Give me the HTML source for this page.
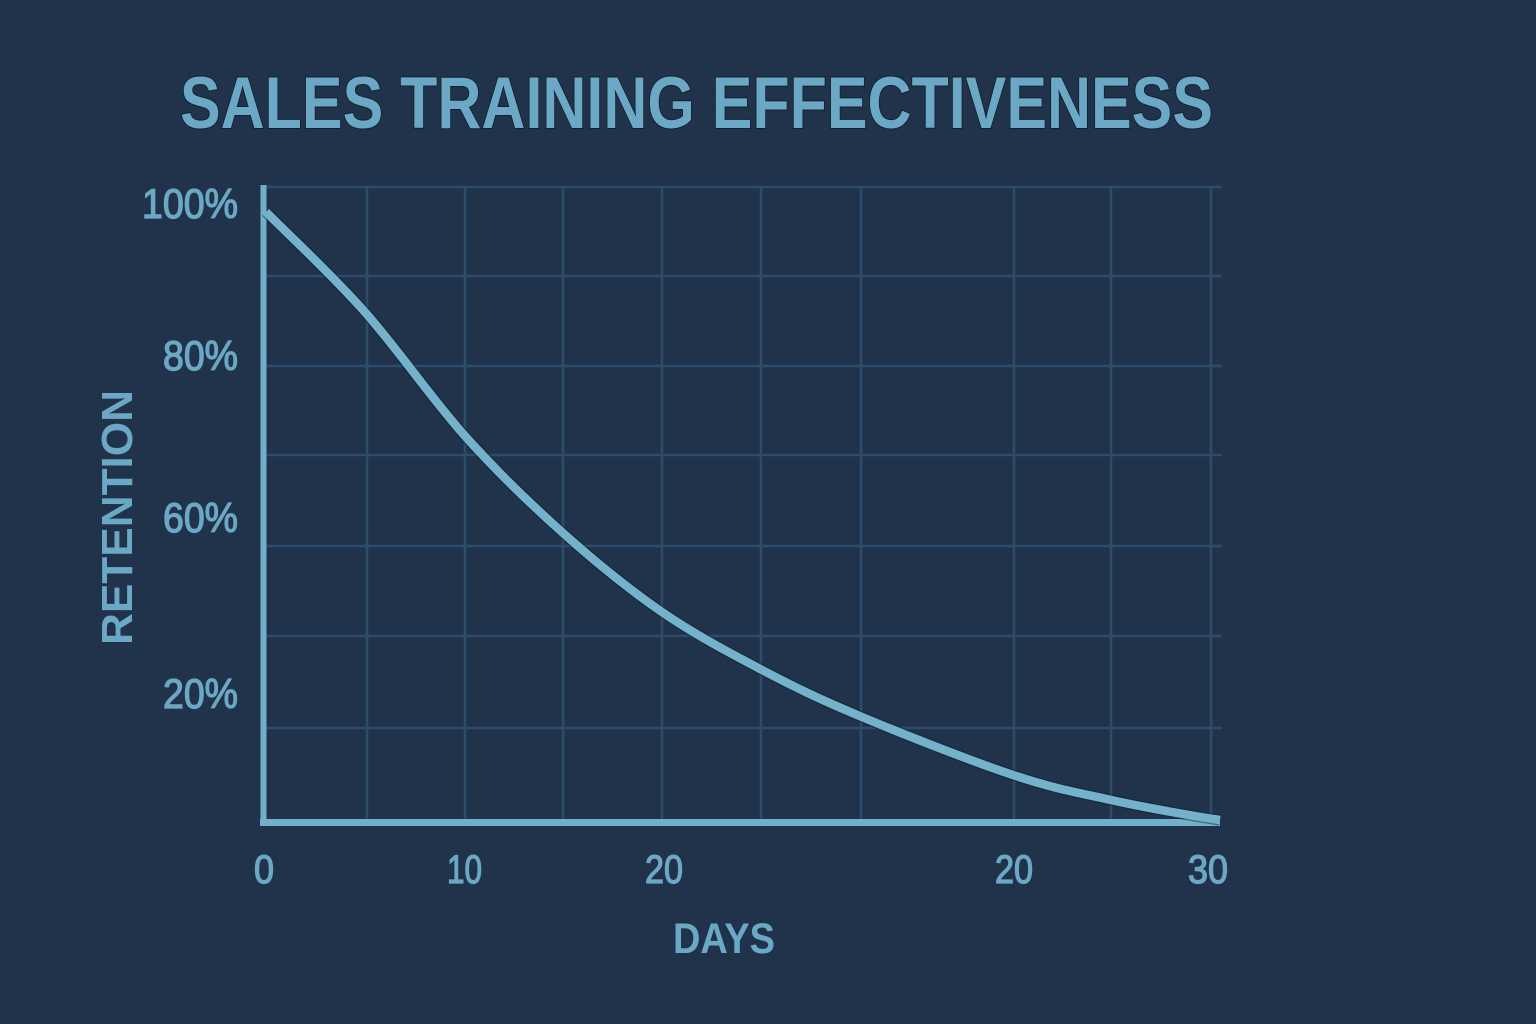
<!DOCTYPE html>
<html>
<head>
<meta charset="utf-8">
<style>
  html,body{margin:0;padding:0;background:#20334a;}
  svg{display:block;}
  text{font-family:"Liberation Sans",sans-serif;fill:#6ba8c5;paint-order:stroke;}
</style>
</head>
<body>
<svg width="1536" height="1024" viewBox="0 0 1536 1024" xmlns="http://www.w3.org/2000/svg">
  <rect x="0" y="0" width="1536" height="1024" fill="#20334a"/>

  <!-- Title -->
  <text x="180" y="128" font-size="73" font-weight="bold" textLength="1033" lengthAdjust="spacingAndGlyphs" stroke="#14202f" stroke-width="2">SALES TRAINING EFFECTIVENESS</text>

  <!-- Grid -->
  <g stroke="#2d4b6a" stroke-width="2.6" fill="none">
    <line x1="263" y1="187" x2="1222" y2="187"/>
    <line x1="263" y1="276" x2="1222" y2="276"/>
    <line x1="263" y1="366" x2="1222" y2="366"/>
    <line x1="263" y1="455" x2="1222" y2="455"/>
    <line x1="263" y1="546" x2="1222" y2="546"/>
    <line x1="263" y1="636" x2="1222" y2="636"/>
    <line x1="263" y1="728" x2="1222" y2="728"/>
    <line x1="367" y1="187" x2="367" y2="822"/>
    <line x1="465" y1="187" x2="465" y2="822"/>
    <line x1="563" y1="187" x2="563" y2="822"/>
    <line x1="662" y1="187" x2="662" y2="822"/>
    <line x1="761" y1="187" x2="761" y2="822"/>
    <line x1="861" y1="187" x2="861" y2="822"/>
    <line x1="1014" y1="187" x2="1014" y2="822"/>
    <line x1="1111" y1="187" x2="1111" y2="822"/>
    <line x1="1211" y1="187" x2="1211" y2="822"/>
  </g>

  <!-- Axes -->
  <g stroke="#72b0ca" fill="none">
    <line x1="263.5" y1="185" x2="263.5" y2="826" stroke-width="6"/>
    <line x1="260" y1="822.5" x2="1220" y2="822.5" stroke-width="7"/>
  </g>

  <!-- Curve -->
  <path d="M266,212 C282.3,228.5 330.8,273.7 364,311 C397.2,348.3 431.8,399 465,436 C498.2,473 530.2,503.7 563,533 C595.8,562.3 628.8,589.2 662,612 C695.2,634.8 728.7,652.5 762,670 C795.3,687.5 820.2,699.5 862,717 C903.8,734.5 971.5,761.2 1013,775 C1054.5,788.8 1077.5,792.5 1111,800 C1144.5,807.5 1196.8,816.7 1220,820"
        stroke="#122030" stroke-width="11" fill="none" stroke-opacity="0.5"/>
  <path d="M266,212 C282.3,228.5 330.8,273.7 364,311 C397.2,348.3 431.8,399 465,436 C498.2,473 530.2,503.7 563,533 C595.8,562.3 628.8,589.2 662,612 C695.2,634.8 728.7,652.5 762,670 C795.3,687.5 820.2,699.5 862,717 C903.8,734.5 971.5,761.2 1013,775 C1054.5,788.8 1077.5,792.5 1111,800 C1144.5,807.5 1196.8,816.7 1220,820"
        stroke="#74b2cc" stroke-width="8.5" fill="none"/>

  <!-- Y labels -->
  <g font-size="42" text-anchor="end" stroke="#6ba8c5" stroke-width="1.3">
    <text x="238" y="218" textLength="96" lengthAdjust="spacingAndGlyphs">100%</text>
    <text x="238" y="370" textLength="75" lengthAdjust="spacingAndGlyphs">80%</text>
    <text x="238" y="532" textLength="75" lengthAdjust="spacingAndGlyphs">60%</text>
    <text x="238" y="708" textLength="75" lengthAdjust="spacingAndGlyphs">20%</text>
  </g>

  <!-- X labels -->
  <g font-size="40" stroke="#6ba8c5" stroke-width="1.3">
    <text x="254" y="883" textLength="20" lengthAdjust="spacingAndGlyphs">0</text>
    <text x="447" y="883" textLength="35" lengthAdjust="spacingAndGlyphs">10</text>
    <text x="645" y="883" textLength="38" lengthAdjust="spacingAndGlyphs">20</text>
    <text x="995" y="883" textLength="38" lengthAdjust="spacingAndGlyphs">20</text>
    <text x="1188" y="883" textLength="40" lengthAdjust="spacingAndGlyphs">30</text>
  </g>

  <!-- Axis titles -->
  <text x="673" y="953" font-size="43" font-weight="bold" textLength="102" lengthAdjust="spacingAndGlyphs">DAYS</text>
  <text transform="translate(132,645) rotate(-90)" x="0" y="0" font-size="44" font-weight="bold" textLength="255" lengthAdjust="spacingAndGlyphs">RETENTION</text>
</svg>
</body>
</html>
